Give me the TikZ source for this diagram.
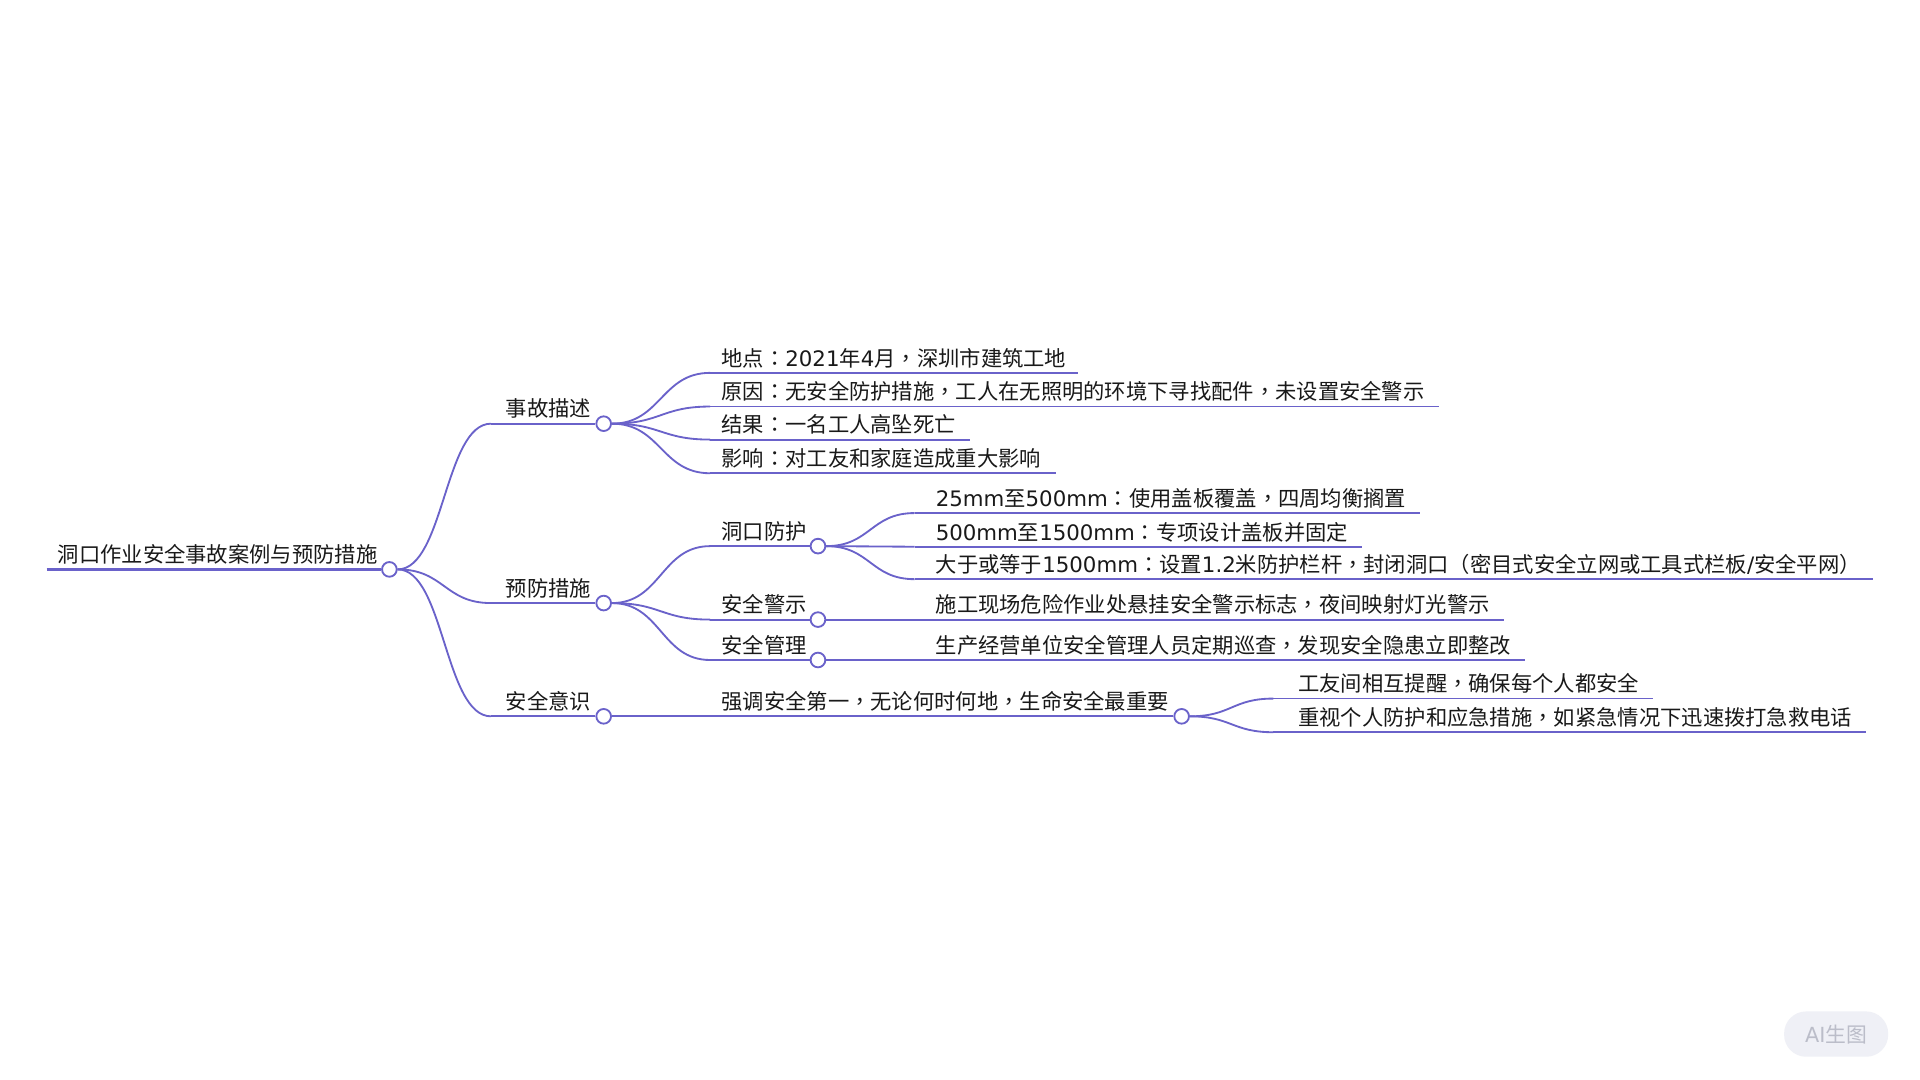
\documentclass[tikz,border=0pt]{standalone}
\usepackage{fontspec}
\setmainfont{Noto Sans CJK SC}
\newfontfamily\dv{DejaVu Sans}
\newfontfamily\tcp{Noto Sans CJK TC}
\newcommand{\qc}{{\tcp ：}}
\newcommand{\qd}{{\tcp ，}}
\usetikzlibrary{calc}
\definecolor{lc}{RGB}{106,98,202}
\definecolor{tc}{RGB}{25,25,25}
\definecolor{wmfill}{RGB}{239,240,246}
\definecolor{wmtext}{RGB}{187,189,201}
\begin{document}
\begin{tikzpicture}[x=1pt,y=-1pt,
  font=\fontsize{17.4}{20}\selectfont,
  lnk/.style={draw=lc, line width=1.5pt},
  rootlnk/.style={draw=lc, line width=2pt},
  txt/.style={anchor=base west, inner sep=0pt, text=tc},
  dot/.style={circle, draw=lc, fill=white, line width=1.5pt, minimum size=12pt, inner sep=0pt},
  wm/.style={fill=wmfill, rounded corners=18pt, minimum width=85pt, minimum height=37pt, inner sep=0pt, text=wmtext, font=\fontsize{17}{20}\selectfont}]
\useasboundingbox[fill=white] (0,0) rectangle (1568,882);

% ---------- root ----------
\coordinate (Rs) at (38,465);
\node[txt] (R) at (47,459.5) {洞口作业安全事故案例与预防措施};
\node[dot] (Rc) at (318,465) {};
\draw[rootlnk] (Rs) -- (Rc.west);

% ---------- level 1 ----------
\coordinate (As) at (401,346);
\node[txt] (A) at (413,340.5) {事故描述};
\node[dot] (Ac) at (493,346) {};
\coordinate (Bs) at (401,492.5);
\node[txt] (B) at (413,487) {预防措施};
\node[dot] (Bc) at (493,492.5) {};
\coordinate (Cs) at (401,585);
\node[txt] (C) at (413,579.5) {安全意识};
\node[dot] (Cc) at (493,585) {};

\draw[lnk] (As) -- (Ac.west);
\draw[lnk] (Bs) -- (Bc.west);
\draw[lnk] (Cs) -- (Cc.west);
\foreach \t in {As,Bs,Cs}
  \draw[lnk] (Rc.east) .. controls +(38,0) and +(-38,0) .. (\t);

% ---------- 事故描述 children ----------
\coordinate (A1s) at (580,304.5); \coordinate (A1e) at (880,304.5);
\node[txt] (A1) at (589,299) {地点\qc{\dv 2021}年{\dv 4}月\qd 深圳市建筑工地};
\coordinate (A2s) at (580,332); \coordinate (A2e) at (1175,332);
\node[txt] (A2) at (589,326.5) {原因\qc 无安全防护措施\qd 工人在无照明的环境下寻找配件\qd 未设置安全警示};
\coordinate (A3s) at (580,359); \coordinate (A3e) at (792,359);
\node[txt] (A3) at (589,353.5) {结果\qc 一名工人高坠死亡};
\coordinate (A4s) at (580,386.5); \coordinate (A4e) at (862,386.5);
\node[txt] (A4) at (589,381) {影响\qc 对工友和家庭造成重大影响};
\foreach \i in {1,2,3,4}{
  \draw[lnk] (A\i s) -- (A\i e);
  \draw[lnk] (Ac.east) .. controls +(40,0) and +(-40,0) .. (A\i s);
}

% ---------- 预防措施 children ----------
\coordinate (B1s) at (580,446);
\node[txt] (B1) at (589,440.5) {洞口防护};
\node[dot] (B1c) at (668,446) {};
\coordinate (B2s) at (580,506);
\node[txt] (B2) at (589,500.5) {安全警示};
\node[dot] (B2c) at (668,506) {};
\coordinate (B3s) at (580,539);
\node[txt] (B3) at (589,533.5) {安全管理};
\node[dot] (B3c) at (668,539) {};
\foreach \i in {1,2,3}{
  \draw[lnk] (B\i s) -- (B\i c.west);
  \draw[lnk] (Bc.east) .. controls +(40,0) and +(-40,0) .. (B\i s);
}

% ---------- 洞口防护 children ----------
\coordinate (B11s) at (747,419); \coordinate (B11e) at (1160,419);
\node[txt] (B11) at (764,413.5) {{\dv 25mm}至{\dv 500mm}\qc 使用盖板覆盖\qd 四周均衡搁置};
\coordinate (B12s) at (747,446.5); \coordinate (B12e) at (1112,446.5);
\node[txt] (B12) at (764,441) {{\dv 500mm}至{\dv 1500mm}\qc 专项设计盖板并固定};
\coordinate (B13s) at (747,473); \coordinate (B13e) at (1530,473);
\node[txt] (B13) at (764,467.5) {大于或等于{\dv 1500mm}\qc 设置{\dv 1.2}米防护栏杆\qd 封闭洞口{\tcp （}密目式安全立网或工具式栏板{\dv /}安全平网{\tcp ）}};
\foreach \i in {11,12,13}{
  \draw[lnk] (B\i s) -- (B\i e);
  \draw[lnk] (B1c.east) .. controls +(36,0) and +(-36,0) .. (B\i s);
}

% ---------- 安全警示 / 安全管理 children ----------
\coordinate (B21e) at (1228,506);
\node[txt] (B21) at (764,500.5) {施工现场危险作业处悬挂安全警示标志\qd 夜间映射灯光警示};
\draw[lnk] (B2c.east) -- (B21e);
\coordinate (B31e) at (1245,539);
\node[txt] (B31) at (764,533.5) {生产经营单位安全管理人员定期巡查\qd 发现安全隐患立即整改};
\draw[lnk] (B3c.east) -- (B31e);

% ---------- 安全意识 children ----------
\node[txt] (C1) at (589,579.5) {强调安全第一\qd 无论何时何地\qd 生命安全最重要};
\node[dot] (C1c) at (965,585) {};
\draw[lnk] (Cc.east) -- (C1c.west);

\coordinate (C11s) at (1040,570.5); \coordinate (C11e) at (1350,570.5);
\node[txt] (C11) at (1060,565) {工友间相互提醒\qd 确保每个人都安全};
\coordinate (C12s) at (1040,598); \coordinate (C12e) at (1524,598);
\node[txt] (C12) at (1060,592.5) {重视个人防护和应急措施\qd 如紧急情况下迅速拨打急救电话};
\foreach \i in {11,12}{
  \draw[lnk] (C\i s) -- (C\i e);
  \draw[lnk] (C1c.east) .. controls +(34,0) and +(-34,0) .. (C\i s);
}

% ---------- watermark ----------
\node[wm] (wm) at (1499.5,844.5) {{\dv AI}生图};
\end{tikzpicture}
\end{document}
